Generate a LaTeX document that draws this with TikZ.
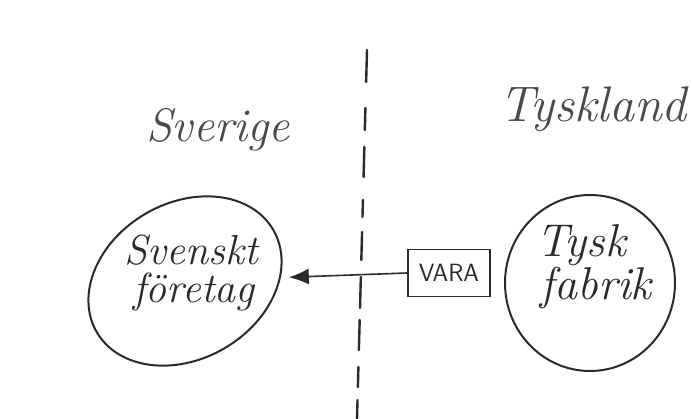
\documentclass[tikz,border=0pt]{standalone}
\usepackage{fontspec}
\usetikzlibrary{shapes.geometric,arrows.meta}
\definecolor{ink}{HTML}{2A2A2A}
\definecolor{pencil}{HTML}{4A4A4A}
\begin{document}
\begin{tikzpicture}[x=1pt,y=1pt,
  hand/.style={inner sep=0pt, text=ink, align=center},
  title/.style={inner sep=0pt, text=pencil},
  blob/.style={draw=ink, line width=2pt, ellipse, inner sep=0pt},
  goods/.style={draw=ink, line width=1.8pt, rectangle, inner sep=0pt,
    minimum width=82pt, minimum height=47pt, text=ink,
    font=\sffamily\fontsize{25}{25}\selectfont},
  flow/.style={draw=ink, line width=1.6pt, -{Latex[length=20pt,width=16pt]}},
  divider/.style={draw=ink, line width=2.4pt, line cap=round}]
\useasboundingbox (0,0) rectangle (692,419);
\fill[white] (0,0) rectangle (692,419);
% titles
\node[title, anchor=base, font=\itshape\fontsize{47}{47}\selectfont] (sverige) at (218,277) {Sverige};
\node[title, anchor=base, font=\itshape\fontsize{50}{50}\selectfont] (tyskland) at (593,297) {Tyskland};
% divider
\foreach \a/\b in {50/82,108/130,147/177,200/217,232/260,277/308,320/350,367/387,400/419}
  \draw[divider] ({367-10*(\a-50)/369},{419-\a}) -- ({367-10*(\b-50)/369},{419-\b});
% shapes
\node[blob, rotate=30, minimum width=204pt, minimum height=156pt] (svensk) at (185,138) {};
\node[blob, minimum width=170pt, minimum height=176pt] (tysk) at (590,136) {};
\node[hand, font=\itshape\fontsize{42}{38}\selectfont\addfontfeatures{FakeStretch=1.12}] (svensktext) at (194,145.5) {Svenskt\hspace*{6pt}\\företag};
\node[hand, font=\itshape\fontsize{46}{40}\selectfont] (tysktext) at (596,152.5) {Tysk\hspace*{30pt}\\fabrik};
\node[goods] (vara) at (449,146) {VARA};
% connector
\draw[flow, shorten >=8pt] (vara.west) -- (svensk);
\end{tikzpicture}
\end{document}
